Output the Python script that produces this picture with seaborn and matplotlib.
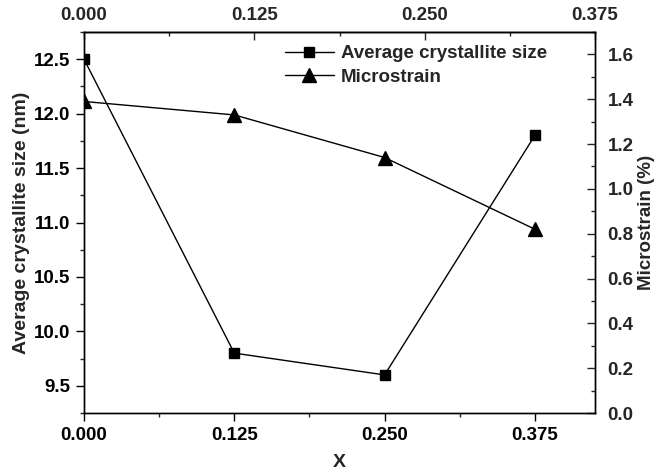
import matplotlib
matplotlib.use("Agg")
import matplotlib.pyplot as plt
import seaborn as sns
import pandas as pd
from matplotlib.ticker import MultipleLocator

x_vals = [0.0, 0.125, 0.25, 0.375]
size_nm = [12.5, 9.8, 9.6, 11.8]
microstrain = [1.39, 1.33, 1.14, 0.82]
x_ticks = [0.0, 0.125, 0.25, 0.375]
x_tick_labels = ["0.000", "0.125", "0.250", "0.375"]
top_ticks = [0.0, 0.125, 0.25, 0.375]
top_tick_labels = ["0.000", "0.125", "0.250", "0.375"]

sns.set_style("ticks")
plt.rcParams['font.family'] = ['Liberation Sans', 'DejaVu Sans']
plt.rcParams['font.weight'] = 'bold'
plt.rcParams['axes.labelweight'] = 'bold'

df = pd.DataFrame({"x": x_vals, "size": size_nm, "strain": microstrain})

W, H = 659, 473
L, R, T, B = 84, 595, 32, 413
fig = plt.figure(figsize=(W / 100, H / 100), dpi=100)
ax = fig.add_axes([L / W, 1 - B / H, (R - L) / W, (B - T) / H])
sns.lineplot(data=df, x="x", y="size", ax=ax, color="black", marker="s",
             markersize=7, linewidth=1.0, markeredgecolor="black", markeredgewidth=1,
             label="Average crystallite size", legend=False)
ax2 = ax.twinx()
sns.lineplot(data=df, x="x", y="strain", ax=ax2, color="black", marker="^",
             markersize=10, linewidth=1.0, markeredgecolor="black", markeredgewidth=1,
             label="Microstrain", legend=False)

XMAX = 0.425
TOPMAX = 0.375
ax.set_xlim(0, XMAX)
ax.set_ylim(9.25, 12.75)
ax2.set_ylim(0, 1.7)

ax.set_xticks(x_ticks)
ax.set_xticklabels(x_tick_labels)
ax.xaxis.set_minor_locator(MultipleLocator(0.0625))
ax.yaxis.set_major_locator(MultipleLocator(0.5))
ax.yaxis.set_minor_locator(MultipleLocator(0.25))
ax2.yaxis.set_major_locator(MultipleLocator(0.2))
ax2.yaxis.set_minor_locator(MultipleLocator(0.1))

# independent top axis spanning 0..0.375 across the full width
axt = ax.secondary_xaxis('top', functions=(lambda v: v * TOPMAX / XMAX,
                                           lambda v: v * XMAX / TOPMAX))
axt.set_xticks(top_ticks)
axt.set_xticklabels(top_tick_labels)
axt.xaxis.set_minor_locator(MultipleLocator(0.0625))
axt.tick_params(axis='x', which='major', direction='in', length=6, width=1, labelsize=13.5, pad=6)
axt.tick_params(axis='x', which='minor', direction='in', length=3, width=1)
axt.spines['top'].set_linewidth(1.0)

for a in (ax, ax2):
    for s in a.spines.values():
        s.set_visible(True)
        s.set_linewidth(1.0)
        s.set_color("black")

ax.tick_params(axis='both', which='major', direction='out', length=6, width=1, labelsize=13.5, colors='black', pad=4)
ax.tick_params(axis='both', which='minor', direction='out', length=3, width=1)
ax2.tick_params(axis='y', which='major', direction='in', length=6, width=1, labelsize=13.5, pad=9)
ax2.tick_params(axis='y', which='minor', direction='in', length=3, width=1)

ax.set_xlabel("X", fontsize=14, fontweight='bold', labelpad=7)
ax.set_ylabel("Average crystallite size (nm)", fontsize=14, fontweight='bold', labelpad=3)
ax2.set_ylabel("Microstrain (%)", fontsize=13.5, fontweight='bold', rotation=90, labelpad=3)

h1, l1 = ax.get_legend_handles_labels()
h2, l2 = ax2.get_legend_handles_labels()
leg = ax2.legend(h1 + h2, l1 + l2, loc="upper left", frameon=False,
                 bbox_to_anchor=((285 - L) / (R - L), (B - 45) / (B - T)),
                 prop={'size': 13.5, 'weight': 'bold'}, handlelength=2.6,
                 borderpad=0, borderaxespad=0, labelspacing=0.35, handletextpad=0.4)

fig.savefig("out.png", dpi=100)
